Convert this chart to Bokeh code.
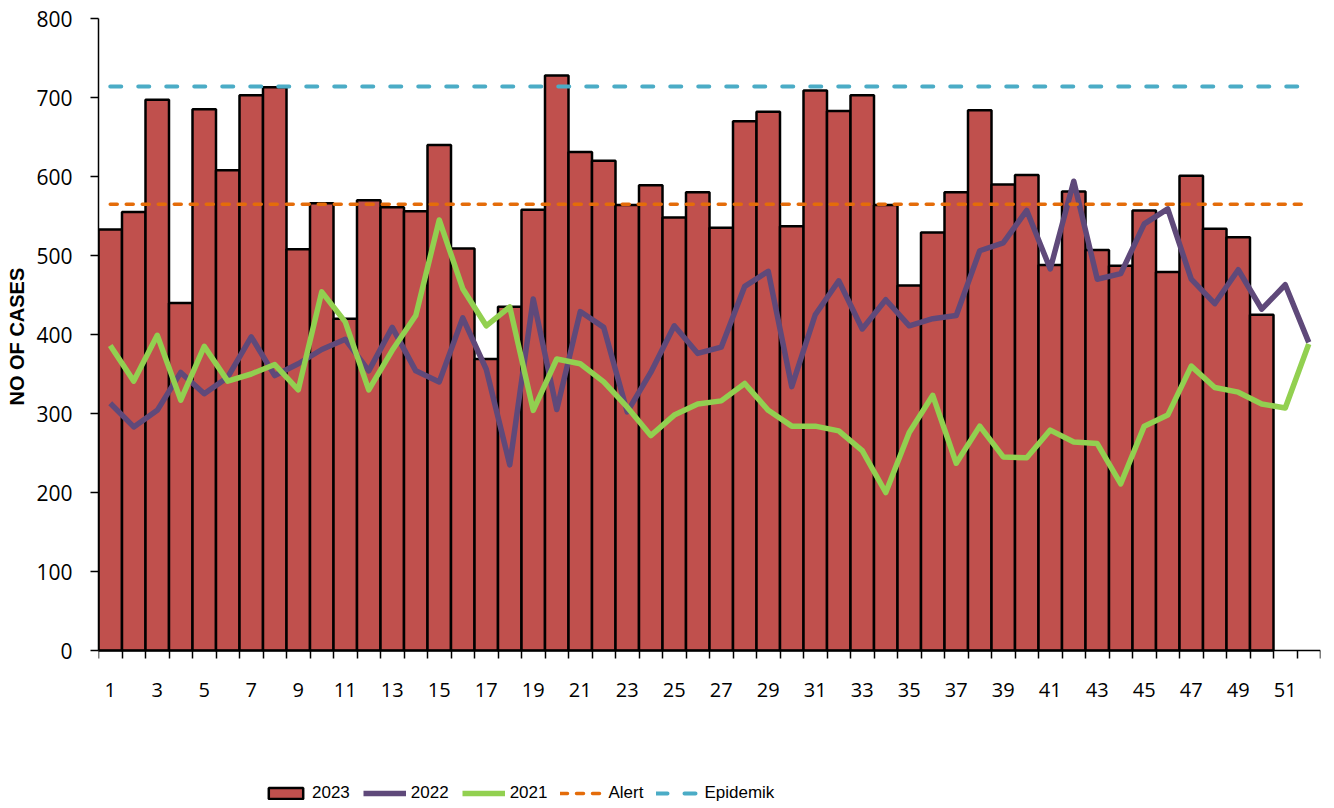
from bokeh.plotting import figure
from bokeh.models import FixedTicker, Legend, LegendItem, ColumnDataSource, Title
from bokeh.embed import file_html
from bokeh.resources import INLINE

weeks = list(range(1, 53))
weeks_2023 = list(range(1, 51))
cases_2023 = [533, 555, 697, 440, 685, 608, 703, 713, 508, 566, 420, 570, 561, 556, 640, 509, 369, 435, 558, 728,
              631, 620, 564, 589, 548, 580, 535, 670, 682, 537, 709, 683, 703, 564, 462, 529, 580, 684, 590, 602,
              488, 581, 507, 487, 557, 479, 601, 534, 523, 425]
cases_2022 = [313, 283, 304, 352, 325, 346, 397, 348, 363, 381, 394, 354, 409, 354, 340, 421, 356, 235, 445, 305,
              429, 409, 302, 352, 411, 376, 384, 461, 480, 334, 425, 468, 407, 444, 411, 420, 424, 506, 516, 557,
              483, 594, 470, 477, 540, 559, 470, 439, 482, 432, 463, 390]
cases_2021 = [386, 341, 399, 317, 385, 341, 350, 362, 330, 454, 416, 330, 380, 424, 545, 458, 411, 435, 304, 369,
              363, 340, 308, 272, 298, 312, 316, 338, 304, 284, 284, 278, 253, 200, 276, 323, 237, 284, 245, 244,
              279, 264, 262, 211, 284, 298, 360, 333, 327, 312, 307, 388]
alert_level = 565
epidemic_level = 714
x_tick_labels = list(range(1, 52, 2))
y_ticks = list(range(0, 801, 100))

FONT = "Open Sans"
LEG_FONT = "Liberation Sans"

# frame spans down to the bottom edge so the legend can sit inside it;
# the value range below 0 is empty space for the week labels and the legend
p = figure(width=1334, height=808, x_range=(0.5, 52.5), y_range=(-200, 800),
           output_backend="svg", toolbar_location=None,
           min_border_left=98, min_border_right=14, min_border_top=18, min_border_bottom=0)
p.outline_line_color = None
p.xgrid.visible = False
p.ygrid.visible = False

src23 = ColumnDataSource(dict(x=weeks_2023, y=cases_2023))
bars = p.vbar(x="x", top="y", width=1.0, bottom=0, source=src23,
              fill_color="#C0504D", line_color="black", line_width=2.5)

src = ColumnDataSource(dict(x=weeks, y22=cases_2022, y21=cases_2021,
                            alert=[alert_level] * len(weeks), epi=[epidemic_level] * len(weeks)))
l22 = p.line("x", "y22", source=src, line_color="#5F497A", line_width=5.5, line_join="round")
l21 = p.line("x", "y21", source=src, line_color="#92D050", line_width=5.5, line_join="round")
la = p.line("x", "alert", source=src, line_color="#E46C0A", line_width=3.5,
            line_dash="7 9", line_cap="round")
le = p.line("x", "epi", source=src, line_color="#4BACC6", line_width=4,
            line_dash="11 17", line_cap="round")

# x axis, drawn at y = 0
p.xaxis.fixed_location = 0
p.xaxis.ticker = FixedTicker(ticks=x_tick_labels, minor_ticks=[w - 0.5 for w in weeks] + [52.5])
p.xaxis.major_tick_out = 0
p.xaxis.major_tick_in = 0
p.xaxis.minor_tick_out = 8
p.xaxis.minor_tick_in = 0
p.xaxis.minor_tick_line_color = "black"
p.xaxis.minor_tick_line_width = 1.5
p.xaxis.axis_line_color = "black"
p.xaxis.axis_line_width = 1.5
p.xaxis.major_label_standoff = 24
p.xaxis.major_label_text_font = FONT
p.xaxis.major_label_text_font_size = "20px"
p.xaxis.major_label_text_color = "black"

# y axis
p.yaxis.bounds = (0, 800)
p.yaxis.ticker = FixedTicker(ticks=y_ticks)
p.yaxis.major_tick_out = 8
p.yaxis.major_tick_in = 0
p.yaxis.major_tick_line_width = 1.5
p.yaxis.minor_tick_line_color = None
p.yaxis.axis_line_color = "black"
p.yaxis.axis_line_width = 1.5
p.yaxis.major_label_standoff = 18
p.yaxis.major_label_text_font = FONT
p.yaxis.major_label_text_font_size = "21px"
p.yaxis.major_label_text_color = "black"

# y axis title, centred on the 0..800 span rather than the whole frame
ytitle = Title(text="NO OF CASES", align="left", offset=403, standoff=9, vertical_align="middle",
               text_font="Liberation Sans", text_font_style="bold", text_font_size="20px",
               text_color="black")
p.add_layout(ytitle, "left")

legend = Legend(items=[LegendItem(label="2023", renderers=[bars]),
                       LegendItem(label="2022", renderers=[l22]),
                       LegendItem(label="2021", renderers=[l21]),
                       LegendItem(label="Alert", renderers=[la]),
                       LegendItem(label="Epidemik", renderers=[le])],
                location=(166, 5), orientation="horizontal",
                glyph_width=43, glyph_height=14, label_height=20, label_standoff=5, spacing=13,
                padding=0, margin=0, border_line_alpha=0, background_fill_alpha=0,
                label_text_font=LEG_FONT, label_text_font_size="17px", label_text_color="black")
p.add_layout(legend, "center")

open("out.html", "w").write(file_html(p, INLINE))
